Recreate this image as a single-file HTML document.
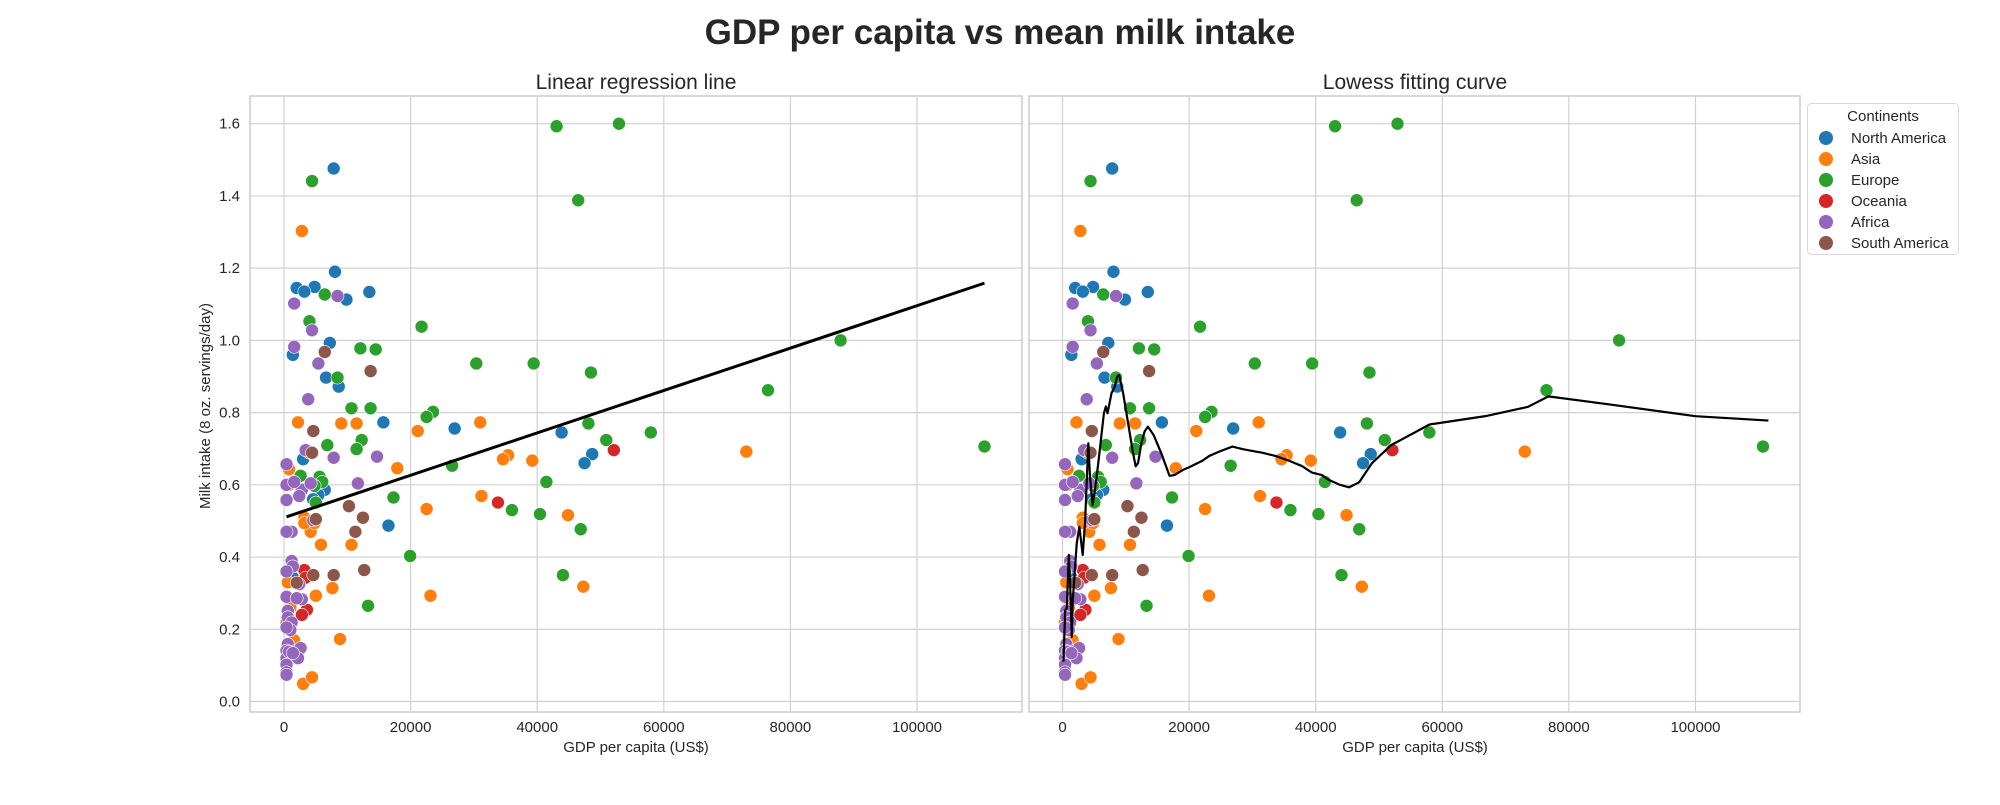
<!DOCTYPE html>
<html><head><meta charset="utf-8"><style>
html,body{margin:0;padding:0;background:#fff;}
svg text{font-family:"Liberation Sans","DejaVu Sans",sans-serif;fill:#262626;}
</style></head><body>
<svg id="chart" width="2000" height="800" viewBox="0 0 2000 800" xmlns="http://www.w3.org/2000/svg">
<text x="1000" y="44" text-anchor="middle" font-size="35" font-weight="bold">GDP per capita vs mean milk intake</text>
<text x="636" y="89" text-anchor="middle" font-size="21">Linear regression line</text>
<text x="1415" y="89" text-anchor="middle" font-size="21">Lowess fitting curve</text>
<text transform="translate(210,406) rotate(-90)" text-anchor="middle" font-size="15">Milk intake (8 oz. servings/day)</text>
<text x="636" y="752" text-anchor="middle" font-size="15">GDP per capita (US$)</text>
<text x="1415" y="752" text-anchor="middle" font-size="15">GDP per capita (US$)</text>
<g id="left"></g>
<g id="right"></g>
<g id="legend"></g>
</svg>
<script>
const continents = ["North America","Asia","Europe","Oceania","Africa","South America"];
const colors = ["#1f77b4","#ff7f0e","#2ca02c","#d62728","#9467bd","#8c564b"];
const xTicks = [0,20000,40000,60000,80000,100000];
const yTicks = [0.0,0.2,0.4,0.6,0.8,1.0,1.2,1.4,1.6];
const northAmerica = [[7850,1.476],[8050,1.19],[2000,1.145],[4830,1.148],[3220,1.135],[13480,1.134],[9860,1.113],[7240,0.993],[1400,0.96],[6640,0.897],[8650,0.872],[15700,0.773],[26960,0.756],[43860,0.745],[48690,0.685],[47480,0.66],[6440,0.586],[5430,0.572],[3020,0.671],[16500,0.487],[1400,0.343],[5000,0.6],[4600,0.56]];
const asia = [[2820,1.303],[2210,0.773],[9050,0.77],[11470,0.77],[21130,0.749],[31000,0.773],[17900,0.646],[39230,0.667],[35400,0.682],[34600,0.671],[73040,0.692],[800,0.643],[800,0.6],[31200,0.569],[22530,0.533],[44870,0.516],[4020,0.689],[4220,0.47],[4830,0.494],[3220,0.509],[5840,0.434],[10660,0.434],[7650,0.314],[23140,0.293],[47280,0.318],[5030,0.293],[8850,0.173],[3020,0.049],[4430,0.067],[3220,0.494],[400,0.219],[600,0.33],[1000,0.26],[1600,0.17],[1200,0.12]];
const europe = [[4430,1.441],[43060,1.593],[52920,1.6],[46480,1.388],[6440,1.127],[4020,1.053],[21730,1.038],[12070,0.978],[14490,0.975],[87930,1.0],[30380,0.936],[39440,0.936],[48490,0.911],[8450,0.897],[76460,0.862],[10660,0.812],[13680,0.812],[23540,0.802],[22530,0.788],[48090,0.77],[12270,0.724],[50910,0.724],[57950,0.745],[110660,0.706],[6840,0.71],[11470,0.699],[26560,0.653],[41450,0.608],[5630,0.622],[6040,0.608],[17300,0.565],[36010,0.53],[40440,0.519],[46880,0.477],[19920,0.403],[44070,0.35],[13280,0.265],[2620,0.625],[4830,0.597],[5030,0.551]];
const oceania = [[52110,0.696],[33800,0.551],[3220,0.364],[3420,0.343],[3620,0.254],[2820,0.24],[800,0.117]];
const africa = [[8450,1.123],[1610,1.102],[4430,1.028],[1610,0.982],[5430,0.936],[3820,0.837],[7850,0.675],[14690,0.678],[3420,0.696],[2820,0.586],[11670,0.604],[4220,0.604],[400,0.657],[400,0.6],[1610,0.608],[400,0.558],[1210,0.47],[400,0.47],[2410,0.569],[4630,0.502],[1210,0.389],[1400,0.374],[400,0.36],[400,0.29],[600,0.251],[600,0.233],[1210,0.219],[1000,0.198],[400,0.205],[600,0.159],[400,0.141],[400,0.12],[400,0.102],[400,0.081],[400,0.074],[800,0.138],[2010,0.141],[2620,0.148],[2210,0.12],[1400,0.134],[2820,0.283],[2410,0.325],[2010,0.286]];
const southAmerica = [[6440,0.968],[13680,0.915],[4430,0.689],[4630,0.749],[10260,0.541],[12470,0.509],[11270,0.47],[5030,0.505],[4630,0.35],[7850,0.35],[12670,0.364],[2010,0.329]];
const lowessX = [157,419,680,994,1204,1465,1622,2250,2669,3192,3558,4082,4343,4762,5128,5652,6541,6855,7117,7745,8268,8634,8948,9576,10361,11146,11565,11931,12455,12978,13501,14391,15594,16903,17688,18996,20042,21089,22135,23182,24752,26845,28415,30508,31555,33648,35741,37834,39404,40974,42020,43840,45250,46870,48890,51920,57980,67070,73540,76770,86260,100000,111520];
const lowessY = [0.110,0.253,0.258,0.406,0.327,0.179,0.281,0.438,0.484,0.406,0.494,0.715,0.623,0.544,0.586,0.660,0.798,0.817,0.798,0.854,0.872,0.900,0.904,0.854,0.771,0.688,0.651,0.660,0.715,0.748,0.761,0.738,0.688,0.625,0.627,0.641,0.649,0.658,0.667,0.680,0.692,0.706,0.699,0.692,0.689,0.680,0.667,0.652,0.634,0.627,0.614,0.600,0.593,0.607,0.660,0.710,0.767,0.791,0.816,0.845,0.823,0.790,0.778];
const regressionCoef = [0.509, 0.00000587];
const series = [northAmerica,asia,europe,oceania,africa,southAmerica];

const NS="http://www.w3.org/2000/svg";
function mk(tag,attrs,parent){const e=document.createElementNS(NS,tag);for(const k in attrs)e.setAttribute(k,attrs[k]);parent.appendChild(e);return e;}
const yScale = v => 701.5 - v*(701.5-123.7)/1.6;
function panel(g, left, right, x0, showY){
  const xScale = v => x0 + v*(633/100000);
  mk('rect',{x:left,y:96,width:right-left,height:616,fill:'#fff'},g);
  xTicks.forEach(t=>{
    const l=mk('line',{x1:xScale(t),x2:xScale(t),y1:96,y2:712,stroke:'#d0d0d0','stroke-width':1.2},g);
    
    
    const tx=mk('text',{x:xScale(t),y:732,'text-anchor':'middle','font-size':15},g);
    tx.textContent=String(t);
    
    
  });
  yTicks.forEach(t=>{
    const l=mk('line',{x1:left,x2:right,y1:yScale(t),y2:yScale(t),stroke:'#d0d0d0','stroke-width':1.2},g);
    
    
    if(showY){
      const tx=mk('text',{x:240,y:yScale(t)+5,'text-anchor':'end','font-size':15},g);
      tx.textContent=t.toFixed(1);
      
      
    }
  });
  const fr=mk('rect',{x:left,y:96,width:right-left,height:616,fill:'none',stroke:'#cccccc','stroke-width':1.5},g);
  
  
  series.forEach((s,i)=>{
    s.forEach(p=>{
      const c=mk('circle',{cx:xScale(p[0]),cy:yScale(p[1]),r:6.5,fill:colors[i],stroke:'#fff','stroke-width':0.6},g);
      
      
    });
  });
  return xScale;
}
const xl = panel(document.getElementById('left'),250,1022,284,true);
const xr = panel(document.getElementById('right'),1029,1800,1062.5,false);
let all=[];series.forEach(s=>s.forEach(p=>all.push(p)));
let minX=Infinity,maxX=-Infinity;all.forEach(p=>{minX=Math.min(minX,p[0]);maxX=Math.max(maxX,p[0]);});
const icpt=regressionCoef[0], slope=regressionCoef[1];
const reg=mk('line',{x1:xl(minX),y1:yScale(icpt+slope*minX),x2:xl(maxX),y2:yScale(icpt+slope*maxX),stroke:'#000','stroke-width':3},document.getElementById('left'));


const lw=mk('polyline',{points:lowessX.map((x,i)=>xr(x)+','+yScale(lowessY[i])).join(' '),fill:'none',stroke:'#000','stroke-width':2.2,'stroke-linejoin':'round'},document.getElementById('right'));


const lg=document.getElementById('legend');
mk('rect',{x:1807.5,y:103.5,width:151,height:151,rx:4,fill:'#fff',stroke:'#d8d8d8','stroke-width':1},lg);
const lt=mk('text',{x:1883,y:121,'text-anchor':'middle','font-size':15},lg);
lt.textContent='Continents';


continents.forEach((c,i)=>{
  const y=138+i*21;
  const e=mk('g',{},lg);
  
  
  mk('circle',{cx:1826,cy:y,r:7,fill:colors[i]},e);
  const t=mk('text',{x:1851,y:y+5,'font-size':15},e);
  t.textContent=c;
});
</script>
</body></html>
